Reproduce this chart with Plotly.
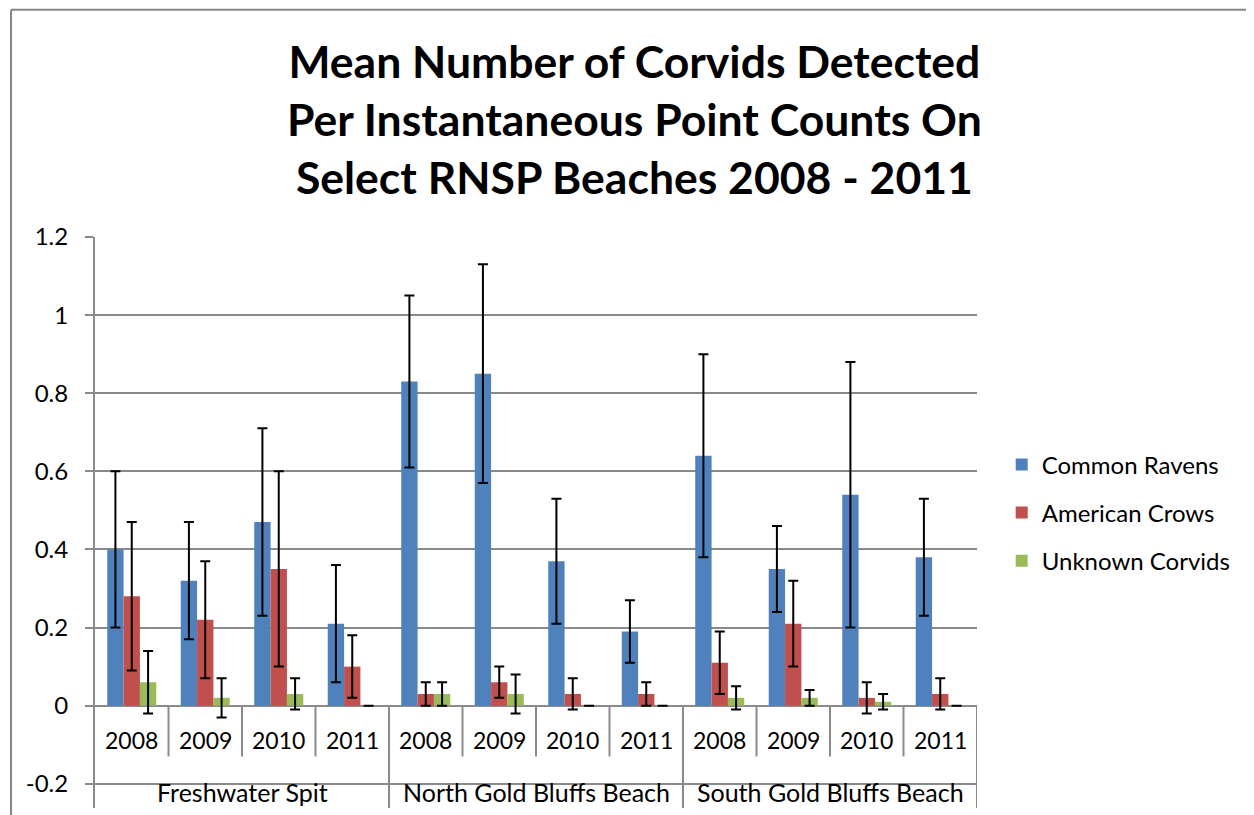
import plotly.graph_objects as go

# ---- data ----
sites = ["Freshwater Spit", "North Gold Bluffs Beach", "South Gold Bluffs Beach"]
years = ["2008", "2009", "2010", "2011"]

series_names = ["Common Ravens", "American Crows", "Unknown Corvids"]
ravens = [0.40, 0.32, 0.47, 0.21, 0.83, 0.85, 0.37, 0.19, 0.64, 0.35, 0.54, 0.38]
ravens_err = [0.20, 0.15, 0.24, 0.15, 0.22, 0.28, 0.16, 0.08, 0.26, 0.11, 0.34, 0.15]
crows = [0.28, 0.22, 0.35, 0.10, 0.03, 0.06, 0.03, 0.03, 0.11, 0.21, 0.02, 0.03]
crows_err = [0.19, 0.15, 0.25, 0.08, 0.03, 0.04, 0.04, 0.03, 0.08, 0.11, 0.04, 0.04]
unknown = [0.06, 0.02, 0.03, 0.00, 0.03, 0.03, 0.00, 0.00, 0.02, 0.02, 0.01, 0.00]
unknown_err = [0.08, 0.05, 0.04, None, 0.03, 0.05, None, None, 0.03, 0.02, 0.02, None]

y_ticks = [-0.2, 0, 0.2, 0.4, 0.6, 0.8, 1, 1.2]
y_tick_text = ["-0.2", "0", "0.2", "0.4", "0.6", "0.8", "1", "1.2"]

colors = ["#4F81BD", "#C0504D", "#9BBB59"]
FONT = "Lato"
GRID = "#8a8a8a"

n_years = len(years)
n_cat = len(sites) * n_years
x_idx = list(range(n_cat))

fig = go.Figure()
for name, vals, errs, col in zip(series_names, [ravens, crows, unknown],
                                 [ravens_err, crows_err, unknown_err], colors):
    fig.add_trace(go.Bar(
        x=x_idx, y=vals, name=name, legendgroup=name,
        marker=dict(color=col, line=dict(width=0)),
        error_y=dict(type="data", array=errs, symmetric=True,
                     color="black", thickness=2, width=5),
    ))

annotations = []
shapes = []
# year labels and separators
for i in range(n_cat):
    annotations.append(dict(x=i, y=-0.087, xref="x", yref="y", text=years[i % n_years],
                            showarrow=False, font=dict(family=FONT, size=23, color="black")))
    b = i + 0.5
    y_end = -0.262 if (i + 1) % n_years == 0 else -0.13
    shapes.append(dict(type="line", xref="x", yref="y", x0=b, x1=b, y0=0, y1=y_end,
                       line=dict(color=GRID, width=2)))
for g, s in enumerate(sites):
    annotations.append(dict(x=g * n_years + (n_years - 1) / 2, y=-0.222, xref="x", yref="y",
                            text=s, showarrow=False,
                            font=dict(family=FONT, size=25, color="black")))

# title
annotations.append(dict(
    x=0.612, y=1.207, xref="paper", yref="paper", xanchor="center", yanchor="middle",
    text="<b>Mean Number of Corvids Detected<br>Per Instantaneous Point Counts On<br>Select RNSP Beaches 2008 - 2011</b>",
    showarrow=False, align="center", font=dict(family=FONT, size=44.5, color="black")))

# chart-area border (left and top)
shapes.append(dict(type="line", xref="paper", yref="paper", x0=-0.0952, x1=-0.0952,
                   y0=-0.1, y1=1.398, line=dict(color="#868686", width=2)))
shapes.append(dict(type="line", xref="paper", yref="paper", x0=-0.0952, x1=1.5,
                   y0=1.398, y1=1.398, line=dict(color="#868686", width=2)))

fig.update_layout(
    width=1254, height=815,
    margin=dict(l=87, r=285, t=229, b=15),
    paper_bgcolor="white", plot_bgcolor="white",
    barmode="group", bargap=0.333, bargroupgap=0,
    showlegend=True,
    legend=dict(x=1.028, y=0.517, xanchor="left", yanchor="middle",
                font=dict(family=FONT, size=24, color="black"),
                tracegroupgap=14, traceorder="grouped", itemwidth=30),
    annotations=annotations, shapes=shapes,
    font=dict(family=FONT, size=22, color="black"),
)
fig.update_xaxes(range=[-0.5, n_cat - 0.5], showticklabels=False, ticks="",
                 showgrid=False, zeroline=False, showline=False, fixedrange=True)
fig.update_yaxes(range=[-0.262, 1.2], tickvals=y_ticks, ticktext=y_tick_text,
                 ticks="outside", ticklen=8, tickwidth=2, tickcolor=GRID,
                 showgrid=True, gridcolor=GRID, gridwidth=2,
                 zeroline=True, zerolinecolor=GRID, zerolinewidth=2,
                 showline=True, linecolor=GRID, linewidth=2,
                 ticklabelstandoff=12,
                 tickfont=dict(family=FONT, size=24, color="black"))

fig.write_html("out.html")
